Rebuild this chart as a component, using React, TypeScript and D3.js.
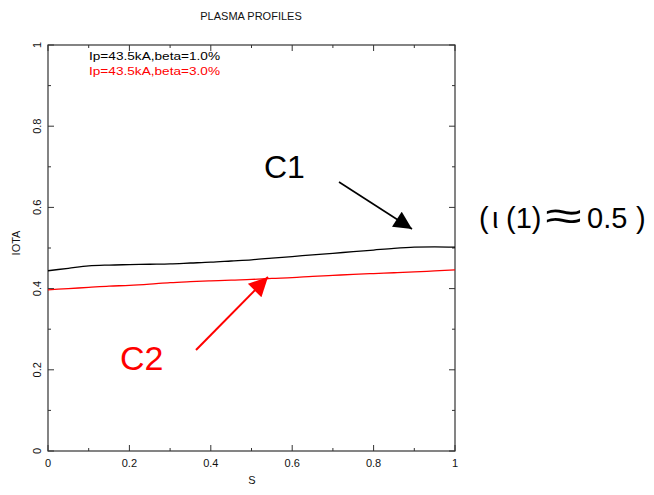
import React from "react";
import * as d3 from "d3";

// Rotational transform profiles iota(s) for two beta values
const sGrid = [0, 0.05, 0.1, 0.15, 0.2, 0.25, 0.3, 0.35, 0.4, 0.45, 0.5, 0.55, 0.6, 0.65, 0.7, 0.75, 0.8, 0.85, 0.9, 0.95, 1.0];
const iotaBeta1 = [0.444, 0.450, 0.456, 0.458, 0.459, 0.460, 0.461, 0.463, 0.465, 0.468, 0.471, 0.475, 0.479, 0.483, 0.487, 0.491, 0.495, 0.499, 0.502, 0.503, 0.502];
const iotaBeta3 = [0.397, 0.400, 0.403, 0.406, 0.408, 0.411, 0.4146, 0.417, 0.419, 0.421, 0.4225, 0.425, 0.427, 0.430, 0.4325, 0.435, 0.437, 0.439, 0.441, 0.4435, 0.446];

const seriesLabels = ["Ip=43.5kA,beta=1.0%", "Ip=43.5kA,beta=3.0%"];
const seriesColors = ["#000000", "#ff0000"];
const majorTicks = [0, 0.2, 0.4, 0.6, 0.8, 1];
const minorTicks = [0.1, 0.3, 0.5, 0.7, 0.9];
const tickLabels = ["0", "0.2", "0.4", "0.6", "0.8", "1"];

const W = 654;
const H = 495;
const M = { left: 48, right: 455, top: 45, bottom: 451 };
const font = "'Liberation Sans', Arial, Helvetica, sans-serif";
const axisColor = "#333";

export default function App() {
  const x = d3.scaleLinear().domain([0, 1]).range([M.left, M.right]);
  const y = d3.scaleLinear().domain([0, 1]).range([M.bottom, M.top]);
  const line = d3
    .line<[number, number]>()
    .x((d) => x(d[0]))
    .y((d) => y(d[1]))
    .curve(d3.curveMonotoneX);

  const curves = [iotaBeta1, iotaBeta3].map((vals) =>
    line(sGrid.map((s, i) => [s, vals[i]] as [number, number]))
  );

  const majLen = 6;
  const minLen = 3;

  return (
    <svg
      width={W}
      height={H}
      style={{ position: "absolute", left: 0, top: 0, background: "#fff" }}
    >
      <defs>
        <marker id="headBlack" viewBox="0 0 10 10" refX="10" refY="5" markerWidth="20" markerHeight="18" markerUnits="userSpaceOnUse" orient="auto">
          <path d="M0,0 L10,5 L0,10 Z" fill="#000" />
        </marker>
        <marker id="headRed" viewBox="0 0 10 10" refX="10" refY="5" markerWidth="21" markerHeight="19" markerUnits="userSpaceOnUse" orient="auto">
          <path d="M0,0 L10,5 L0,10 Z" fill="#ff0000" />
        </marker>
      </defs>

      <text x={251} y={20} textAnchor="middle" fontFamily={font} fontSize={11} fill="#111">
        PLASMA PROFILES
      </text>

      {/* frame */}
      <rect x={M.left} y={M.top} width={M.right - M.left} height={M.bottom - M.top} fill="none" stroke={axisColor} strokeWidth={1.2} />

      {/* inward ticks on all four sides */}
      {majorTicks.concat(minorTicks).map((t, i) => {
        const len = i < majorTicks.length ? majLen : minLen;
        return (
          <g key={"t" + i} stroke={axisColor} strokeWidth={1}>
            <line x1={x(t)} x2={x(t)} y1={M.bottom} y2={M.bottom - len} />
            <line x1={x(t)} x2={x(t)} y1={M.top} y2={M.top + len} />
            <line x1={M.left} x2={M.left + len} y1={y(t)} y2={y(t)} />
            <line x1={M.right} x2={M.right - len} y1={y(t)} y2={y(t)} />
          </g>
        );
      })}

      {/* x tick labels */}
      {majorTicks.map((t, i) => (
        <text key={"xl" + i} x={x(t)} y={467} textAnchor="middle" fontFamily={font} fontSize={11} fill="#111">
          {tickLabels[i]}
        </text>
      ))}
      {/* y tick labels (rotated) */}
      {majorTicks.map((t, i) => (
        <text
          key={"yl" + i}
          transform={`translate(40.5,${y(t)}) rotate(-90)`}
          textAnchor="middle"
          fontFamily={font}
          fontSize={11}
          fill="#111"
        >
          {tickLabels[i]}
        </text>
      ))}

      <text x={252} y={484} textAnchor="middle" fontFamily={font} fontSize={11} fill="#111">
        S
      </text>
      <text transform="translate(20,243) rotate(-90)" textAnchor="middle" fontFamily={font} fontSize={11} fill="#111">
        IOTA
      </text>

      {/* curves */}
      {curves.map((d, i) => (
        <path key={"c" + i} d={d || ""} fill="none" stroke={seriesColors[i]} strokeWidth={1.3} />
      ))}

      {/* legend */}
      {seriesLabels.map((lbl, i) => (
        <text key={"lg" + i} x={89} y={60 + i * 15} fontFamily={font} fontSize={11} fill={seriesColors[i]} textLength={131} lengthAdjust="spacingAndGlyphs">
          {lbl}
        </text>
      ))}

      {/* annotations */}
      <text x={264} y={178} fontFamily={font} fontSize={32} fill="#000">
        C1
      </text>
      <line x1={339} y1={182} x2={412} y2={229} stroke="#000" strokeWidth={1.6} markerEnd="url(#headBlack)" />

      <text x={120} y={370} fontFamily={font} fontSize={34} fill="#ff0000">
        C2
      </text>
      <line x1={196} y1={350} x2={268} y2={277} stroke="#ff0000" strokeWidth={2} markerEnd="url(#headRed)" />

      <text y={228} fontFamily={font} fontSize={29} fill="#000">
        <tspan x={479}>(</tspan>
        <tspan x={492}>ι</tspan>
        <tspan x={506}>(1)</tspan>
        <tspan x={587}>0.5</tspan>
        <tspan x={636}>)</tspan>
      </text>
      <text transform="translate(545,230) scale(1.6,1)" fontFamily={font} fontSize={42} fill="#000">
        ≈
      </text>
    </svg>
  );
}
